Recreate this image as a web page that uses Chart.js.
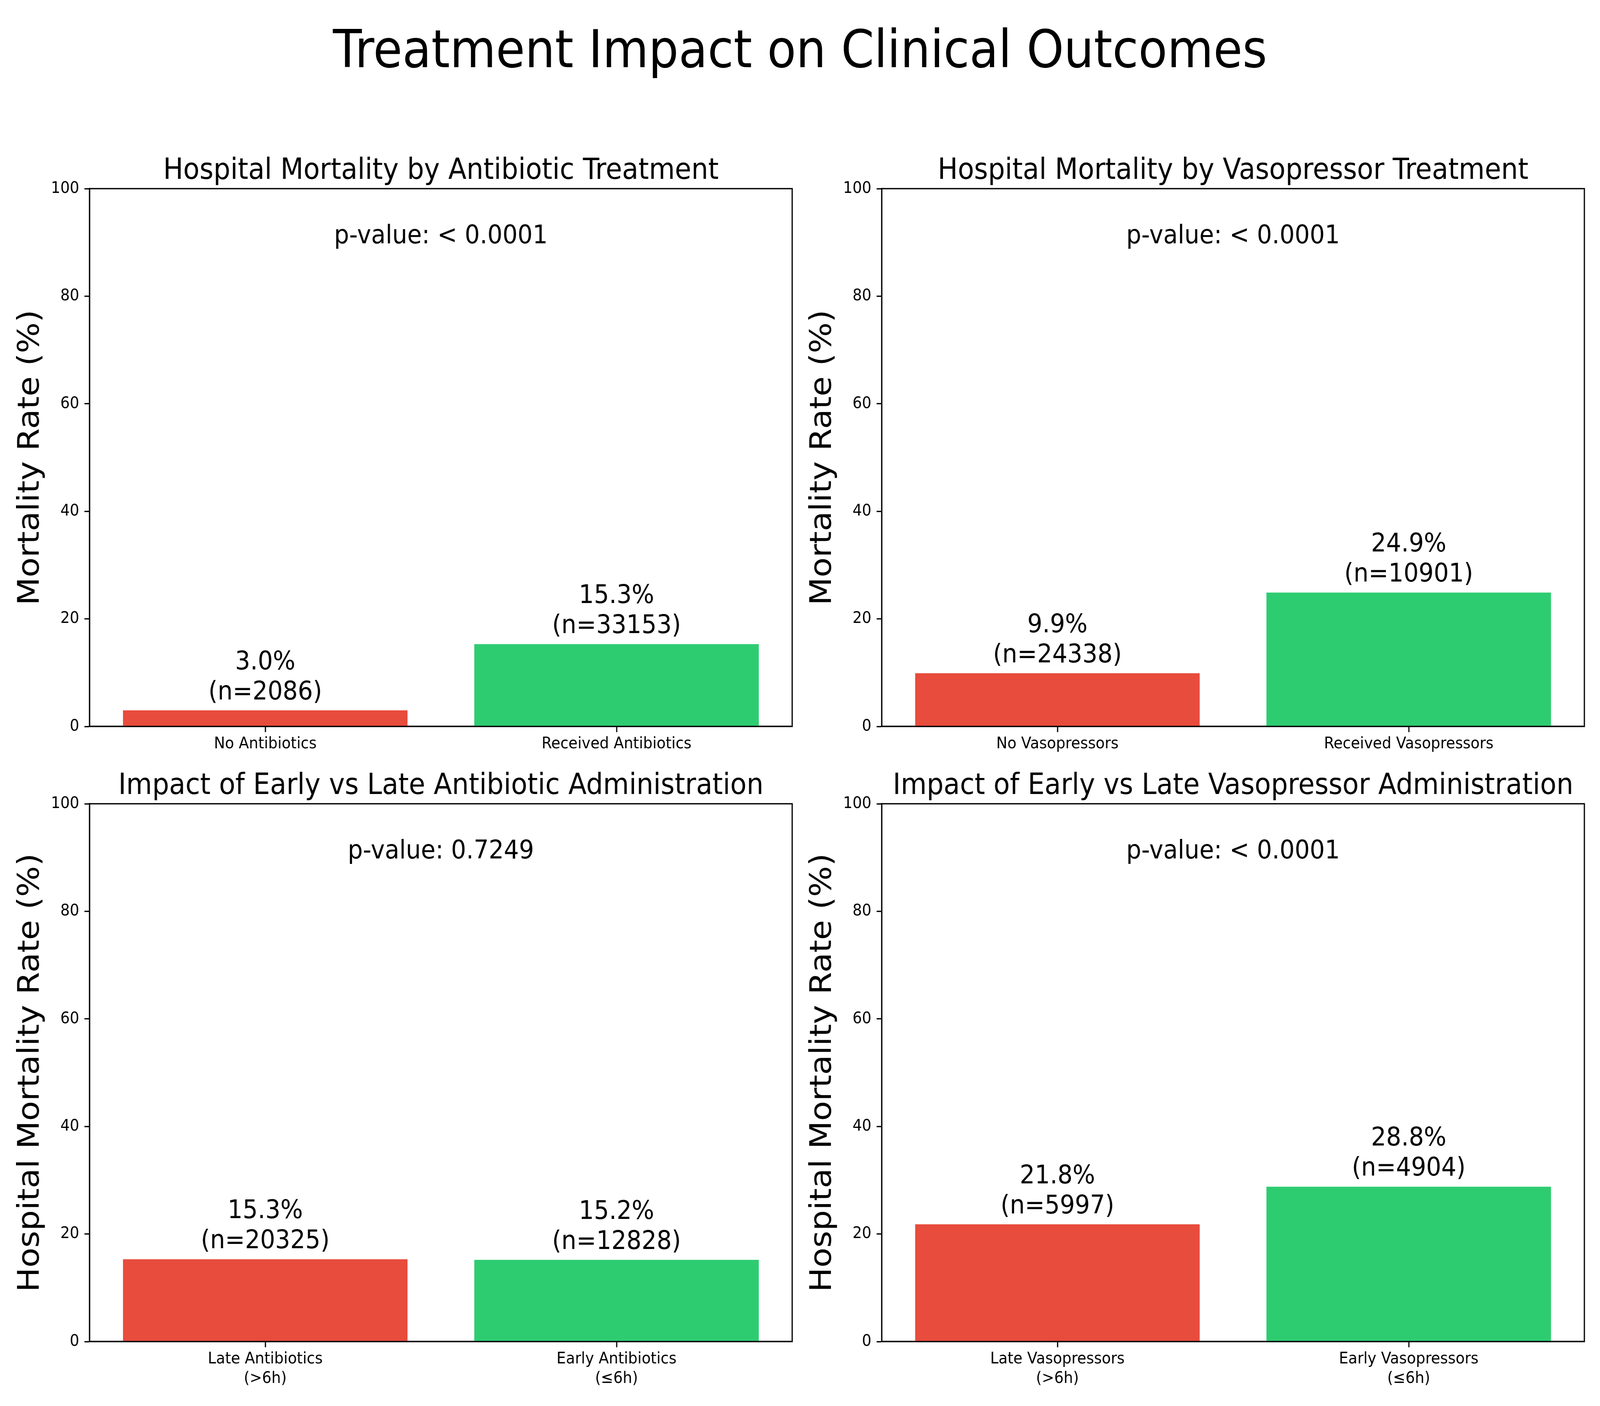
<!DOCTYPE html>
<html><head><meta charset="utf-8">
<script src="https://cdn.jsdelivr.net/npm/chart.js@4.4.0/dist/chart.umd.min.js"></script>
<style>
html,body{margin:0;padding:0;background:#fff;overflow:hidden;}
#wrap{position:absolute;left:0;top:0;width:4500px;height:3600px;transform-origin:0 0;background:#fff;}
canvas{position:absolute;}
#sup{position:absolute;left:0;width:4500px;top:60px;text-align:center;font-family:'DejaVu Sans';font-size:133px;line-height:133px;color:#000;white-space:nowrap;}
</style></head><body>
<div id="wrap">
<div id="sup">Treatment Impact on Clinical Outcomes</div>
<canvas id="c0" width="2250" height="2020" style="left:0px;top:0px"></canvas>
<canvas id="c1" width="2252" height="2020" style="left:2228px;top:0px"></canvas>
<canvas id="c2" width="2250" height="2020" style="left:0px;top:1575px"></canvas>
<canvas id="c3" width="2252" height="2020" style="left:2228px;top:1575px"></canvas>
</div>
<script>
// ---- data ----
const panelTitles = [
  'Hospital Mortality by Antibiotic Treatment',
  'Hospital Mortality by Vasopressor Treatment',
  'Impact of Early vs Late Antibiotic Administration',
  'Impact of Early vs Late Vasopressor Administration'
];
const categoriesA = ['No Antibiotics', 'Received Antibiotics'];
const categoriesB = ['No Vasopressors', 'Received Vasopressors'];
const categoriesC = [['Late Antibiotics', '(>6h)'], ['Early Antibiotics', '(\u22646h)']];
const categoriesD = [['Late Vasopressors', '(>6h)'], ['Early Vasopressors', '(\u22646h)']];
const ratesA = [3.0, 15.3];
const ratesB = [9.9, 24.9];
const ratesC = [15.3, 15.2];
const ratesD = [21.8, 28.8];
const countsA = [2086, 33153];
const countsB = [24338, 10901];
const countsC = [20325, 12828];
const countsD = [5997, 4904];
const pValues = ['< 0.0001', '< 0.0001', '0.7249', '< 0.0001'];
const yLabels = ['Mortality Rate (%)', 'Mortality Rate (%)', 'Hospital Mortality Rate (%)', 'Hospital Mortality Rate (%)'];
const yMin = 0, yMax = 100, yStep = 20;
const barColors = ['#e74c3c', '#2ecc71'];

// fit the 4500x3600 design into the actual viewport
(function(){
  const sx = window.innerWidth / 4500, sy = window.innerHeight / 3600;
  if (sx && sy && (Math.abs(sx - 1) > 0.001 || Math.abs(sy - 1) > 0.001)) {
    document.getElementById('wrap').style.transform = 'scale(' + sx + ',' + sy + ')';
  }
})();

const panels = [
  {id:'c0', cats:categoriesA, rates:ratesA, counts:countsA, padRight:22},
  {id:'c1', cats:categoriesB, rates:ratesB, counts:countsB, padRight:24},
  {id:'c2', cats:categoriesC, rates:ratesC, counts:countsC, padRight:22},
  {id:'c3', cats:categoriesD, rates:ratesD, counts:countsD, padRight:24}
];

const FONT = 'DejaVu Sans';
const LW = 3.33;

panels.forEach((p, i) => {
  const deco = {
    id: 'deco' + i,
    afterDatasetsDraw(chart) {
      const ctx = chart.ctx, ca = chart.chartArea;
      ctx.save();
      ctx.strokeStyle = '#000';
      ctx.lineWidth = LW;
      ctx.strokeRect(ca.left, ca.top, ca.right - ca.left, ca.bottom - ca.top);
      const meta = chart.getDatasetMeta(0);
      ctx.fillStyle = '#000';
      ctx.font = '66.7px "' + FONT + '"';
      ctx.textAlign = 'center';
      ctx.textBaseline = 'alphabetic';
      meta.data.forEach((el, k) => {
        ctx.fillText(p.rates[k].toFixed(1) + '%', el.x, el.y - 105);
        ctx.fillText('(n=' + p.counts[k] + ')', el.x, el.y - 28);
      });
      ctx.fillText('p-value: ' + pValues[i], (ca.left + ca.right) / 2, ca.top + 140);
      ctx.font = '75px "' + FONT + '"';
      ctx.fillText(panelTitles[i], (ca.left + ca.right) / 2, ca.top - 25);
      ctx.font = '83.3px "' + FONT + '"';
      ctx.translate(ca.left - 143, (ca.top + ca.bottom) / 2);
      ctx.rotate(-Math.PI / 2);
      ctx.fillText(yLabels[i], 0, 0);
      ctx.restore();
    }
  };
  new Chart(document.getElementById(p.id), {
    type: 'bar',
    data: {
      labels: p.cats,
      datasets: [{
        data: p.rates,
        backgroundColor: barColors,
        borderWidth: 0,
        barPercentage: 0.81,
        categoryPercentage: 1.0
      }]
    },
    options: {
      responsive: false,
      animation: false,
      devicePixelRatio: 1,
      layout: {padding: {top: 483, right: p.padRight, bottom: 0, left: 0}},
      plugins: {legend: {display: false}, tooltip: {enabled: false}, title: {display: false}},
      scales: {
        x: {
          type: 'category',
          offset: true,
          grid: {display: true, drawOnChartArea: false, drawTicks: true, offset: false,
                 tickLength: 14.6, tickWidth: LW, tickColor: '#000'},
          border: {display: true, color: '#000', width: LW},
          ticks: {color: '#000', font: {family: FONT, size: 41.67, lineHeight: 1.2},
                  padding: 6, maxRotation: 0, minRotation: 0, autoSkip: false},
          afterFit(scale) { scale.height = 160; }
        },
        y: {
          min: yMin, max: yMax,
          grid: {display: true, drawOnChartArea: false, drawTicks: true,
                 tickLength: 14.6, tickWidth: LW, tickColor: '#000'},
          border: {display: true, color: '#000', width: LW},
          ticks: {stepSize: yStep, color: '#000', font: {family: FONT, size: 41.67}, padding: 14.6},
          afterFit(scale) { scale.width = 252; }
        }
      }
    },
    plugins: [deco]
  });
});
</script>
</body></html>
